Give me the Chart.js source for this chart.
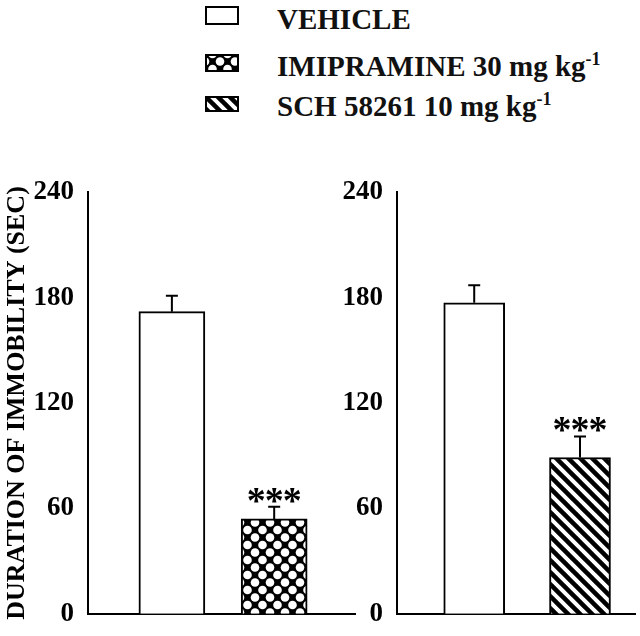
<!DOCTYPE html>
<html>
<head>
<meta charset="utf-8">
<script src="https://cdn.jsdelivr.net/npm/chart.js@4.4.1/dist/chart.umd.min.js"></script>
<style>
  body { margin: 0; background: #fff; }
  #wrap { position: relative; width: 640px; height: 636px; overflow: hidden; font-family: "Liberation Serif", "Times New Roman", serif; }
  .leg { position: absolute; left: 205px; height: 40px; }
  .leg canvas { position: absolute; left: 0; }
  .leg span { position: absolute; left: 72px; font-weight: bold; font-size: 29px; white-space: nowrap; color: #111; line-height: 1; }
  .leg sup { font-size: 18px; vertical-align: 0; position: relative; top: -11px; }
  #leftPanel { position: absolute; left: 0; top: 170px; }
  #rightPanel { position: absolute; left: 340px; top: 170px; }
</style>
</head>
<body>
<div id="wrap">
  <div class="leg" style="top:5px"><canvas id="sw0" width="34" height="19" style="top:1px"></canvas><span>VEHICLE</span></div>
  <div class="leg" style="top:52px"><canvas id="sw1" width="34" height="18" style="top:2px"></canvas><span>IMIPRAMINE 30 mg kg<sup>-1</sup></span></div>
  <div class="leg" style="top:92px"><canvas id="sw2" width="34" height="16" style="top:4px"></canvas><span>SCH 58261 10 mg kg<sup>-1</sup></span></div>
  <canvas id="leftPanel" width="360" height="466"></canvas>
  <canvas id="rightPanel" width="300" height="466"></canvas>
</div>
<script>
// values
var yTicks = [0, 60, 120, 180, 240];

var leftGroups = ['VEHICLE', 'IMIPRAMINE 30 mg kg-1'];
var leftMeans = [172, 54];
var leftErrors = [9, 7];
var leftStars = ['', '***'];

var rightGroups = ['VEHICLE', 'SCH 58261 10 mg kg-1'];
var rightMeans = [177, 89];
var rightErrors = [10, 12];
var rightStars = ['', '***'];

var serif = '"Liberation Serif", "Times New Roman", serif';

// fill patterns
function diamondPattern(ctx) {
    var t = document.createElement('canvas');
    t.width = 15; t.height = 15;
    var c = t.getContext('2d');
    c.fillStyle = '#000';
    c.fillRect(0, 0, 15, 15);
    c.fillStyle = '#fff';
    [[7.5, 0], [0, 7.5], [15, 7.5], [7.5, 15]].forEach(function (p) {
        c.beginPath();
        c.arc(p[0], p[1], 4.3, 0, Math.PI * 2);
        c.fill();
    });
    return ctx.createPattern(t, 'repeat');
}

function hatchPattern(ctx) {
    var t = document.createElement('canvas');
    t.width = 12; t.height = 12;
    var c = t.getContext('2d');
    c.fillStyle = '#fff';
    c.fillRect(0, 0, 12, 12);
    c.strokeStyle = '#000';
    c.lineWidth = 4.5;
    [-12, 0, 12].forEach(function (k) {
        c.beginPath();
        c.moveTo(k - 2, -2);
        c.lineTo(k + 14, 14);
        c.stroke();
    });
    return ctx.createPattern(t, 'repeat');
}

// legend swatches
function swatch(id, kind) {
    var cv = document.getElementById(id);
    var c = cv.getContext('2d');
    if (kind === 'diamond') c.fillStyle = diamondPattern(c);
    else if (kind === 'hatch') c.fillStyle = hatchPattern(c);
    else c.fillStyle = '#fff';
    c.fillRect(1, 1, cv.width - 2, cv.height - 2);
    c.strokeStyle = '#000';
    c.lineWidth = 2;
    c.strokeRect(1, 1, cv.width - 2, cv.height - 2);
}
swatch('sw0', 'white');
swatch('sw1', 'diamond');
swatch('sw2', 'hatch');

// error bars + significance stars
var errorBarPlugin = {
    id: 'errorBars',
    afterDatasetsDraw: function (chart) {
        var ctx = chart.ctx;
        var yScale = chart.scales.y;
        var ds = chart.data.datasets[0];
        var meta = chart.getDatasetMeta(0);
        ctx.save();
        ctx.strokeStyle = '#000';
        ctx.fillStyle = '#000';
        ctx.lineWidth = 2;
        meta.data.forEach(function (bar, i) {
            var top = yScale.getPixelForValue(ds.means[i] + ds.errors[i]);
            ctx.beginPath();
            ctx.moveTo(bar.x, bar.y);
            ctx.lineTo(bar.x, top);
            ctx.moveTo(bar.x - 6, top);
            ctx.lineTo(bar.x + 6, top);
            ctx.stroke();
            if (ds.stars[i]) {
                ctx.font = 'bold 38px ' + serif;
                ctx.textAlign = 'center';
                ctx.textBaseline = 'alphabetic';
                var n = ds.stars[i].length;
                for (var k = 0; k < n; k++) {
                    ctx.fillText('*', bar.x + (k - (n - 1) / 2) * 18, top + 6);
                }
            }
        });
        ctx.restore();
    }
};

function makePanel(id, groups, means, errors, stars, fills, cfg) {
    var ctx = document.getElementById(id).getContext('2d');
    var bg = fills.map(function (f) {
        if (f === 'diamond') return diamondPattern(ctx);
        if (f === 'hatch') return hatchPattern(ctx);
        return '#ffffff';
    });
    return new Chart(ctx, {
        type: 'bar',
        data: {
            datasets: [{
                data: means.map(function (v, i) { return { x: i + 1, y: v }; }),
                means: means,
                errors: errors,
                stars: stars,
                groups: groups,
                backgroundColor: bg,
                borderColor: '#000',
                borderWidth: 2,
                borderSkipped: 'bottom',
                barThickness: cfg.barThickness
            }]
        },
        options: {
            responsive: false,
            animation: false,
            events: [],
            layout: { padding: { top: cfg.padTop, bottom: 18, right: 5, left: 0 } },
            plugins: { legend: { display: false }, tooltip: { enabled: false } },
            scales: {
                x: {
                    type: 'linear',
                    offset: false,
                    min: cfg.xMin,
                    max: cfg.xMax,
                    grid: { display: false },
                    ticks: { display: false },
                    border: { display: true, color: '#000', width: 2 },
                    afterFit: function (s) { s.height = 0; }
                },
                y: {
                    min: 0,
                    max: 240,
                    afterBuildTicks: function (s) {
                        s.ticks = yTicks.map(function (v) { return { value: v }; });
                    },
                    grid: { display: false },
                    border: { display: true, color: '#000', width: 2 },
                    ticks: {
                        color: '#000',
                        padding: 6,
                        font: { family: serif, size: 27, weight: 'bold' }
                    },
                    title: {
                        display: cfg.title !== '',
                        text: cfg.title,
                        color: '#000',
                        padding: { top: 2, bottom: 0 },
                        font: { family: serif, size: 26, weight: 'bold', lineHeight: 1.2 }
                    },
                    afterFit: function (s) { s.width = cfg.axisWidth; }
                }
            }
        },
        plugins: [errorBarPlugin]
    });
}

makePanel('leftPanel', leftGroups, leftMeans, leftErrors, leftStars, ['white', 'diamond'], {
    axisWidth: 88, padTop: 22, barThickness: 66, xMin: 0.18, xMax: 2.79,
    title: 'DURATION OF IMMOBILITY (SEC)'
});
makePanel('rightPanel', rightGroups, rightMeans, rightErrors, rightStars, ['white', 'hatch'], {
    axisWidth: 57, padTop: 20, barThickness: 61, xMin: 0.27, xMax: 2.52,
    title: ''
});
</script>
</body>
</html>
